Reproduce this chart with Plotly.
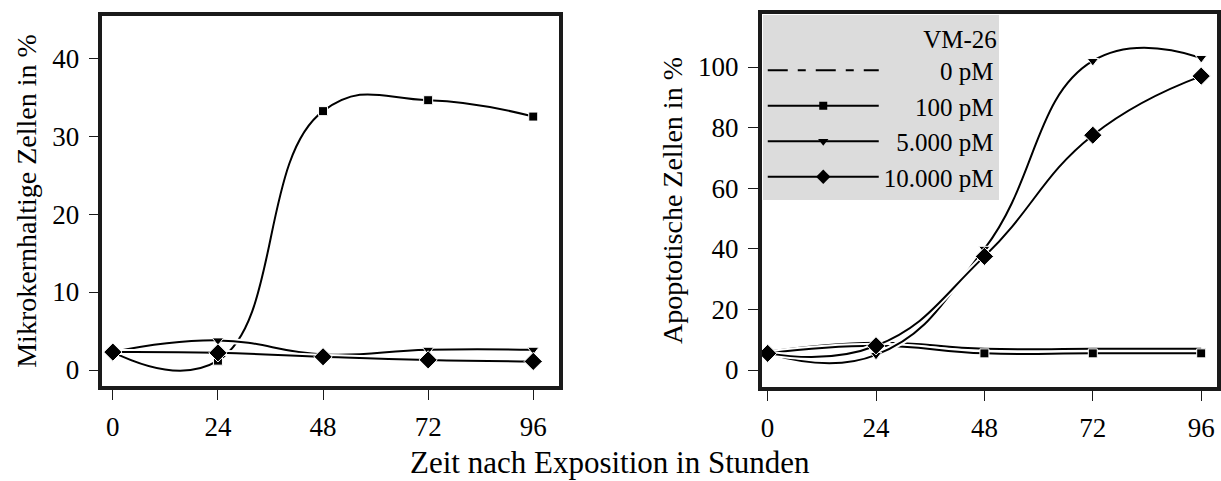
import plotly.graph_objects as go

hours = [0, 24, 48, 72, 96]
x_ticks = [0, 24, 48, 72, 96]
series_names = ["0 pM", "100 pM", "5.000 pM", "10.000 pM"]
# legend labels padded with figure/punctuation spaces so they line up on the right
legend_labels = ["\u2007\u2007\u2007\u2007\u20080 pM", "\u2007\u2007\u2008100 pM",
                 "\u20075.000 pM", "10.000 pM"]

# Left panel: Mikrokernhaltige Zellen in %
left_0pM = [2.3, 2.2, 1.7, 1.2, 1.0]
left_100pM = [2.3, 1.2, 33.2, 34.6, 32.5]
left_5000pM = [2.3, 3.8, 2.0, 2.6, 2.6]
left_10000pM = [2.3, 2.2, 1.7, 1.3, 1.1]

# Right panel: Apoptotische Zellen in %
right_0pM = [6.0, 9.0, 7.0, 7.0, 7.0]
right_100pM = [5.5, 8.0, 5.5, 5.5, 5.5]
right_5000pM = [5.5, 5.0, 40.0, 102.0, 103.0]
right_10000pM = [5.5, 8.0, 37.5, 77.5, 97.0]

left_y_ticks = [0, 10, 20, 30, 40]
right_y_ticks = [0, 20, 40, 60, 80, 100]

FONT = "Liberation Serif"
W, H = 1221, 481
LEG_DASH = "20px,10px,8px,10px"

styles = [
    dict(symbol=None, size=0, lsize=0),
    dict(symbol="square", size=9, lsize=8),
    dict(symbol="triangle-down", size=10, lsize=9),
    dict(symbol="diamond", size=14, lsize=11),
]

fig = go.Figure()


def add_panel(data, xa, ya):
    for name, ys, st in zip(series_names, data, styles):
        fig.add_trace(go.Scatter(
            x=hours, y=ys, mode="lines", xaxis=xa, yaxis=ya,
            line=dict(color="white", width=6, shape="spline", smoothing=1.3),
            showlegend=False, hoverinfo="skip"))
        mode = "lines" if st["symbol"] is None else "lines+markers"
        marker = dict(symbol=st["symbol"] or "circle", size=st["size"], color="black",
                      line=dict(color="white", width=1))
        fig.add_trace(go.Scatter(
            x=hours, y=ys, mode=mode, xaxis=xa, yaxis=ya, name=name,
            line=dict(color="black", width=2, shape="spline", smoothing=1.3),
            marker=marker, showlegend=False))


add_panel([left_0pM, left_100pM, left_5000pM, left_10000pM], "x", "y")
add_panel([right_0pM, right_100pM, right_5000pM, right_10000pM], "x2", "y2")

# legend entries (no data, legend only)
for lab, st, i in zip(legend_labels, styles, range(4)):
    mode = "lines" if st["symbol"] is None else "lines+markers"
    fig.add_trace(go.Scatter(
        x=[None], y=[None], mode=mode, xaxis="x2", yaxis="y2", name=lab,
        line=dict(color="black", width=2, dash=LEG_DASH if i == 0 else "solid"),
        marker=dict(symbol=st["symbol"] or "circle", size=st["lsize"], color="black"),
        showlegend=True))

axis_common = dict(
    showline=True, linecolor="#1a1a1a", linewidth=3.5, mirror=True,
    ticks="outside", ticklen=10, tickwidth=1.2, tickcolor="#1a1a1a",
    showgrid=False, zeroline=False, ticklabelstandoff=4,
    tickfont=dict(family=FONT, size=27, color="black"),
)

fig.update_layout(
    width=W, height=H,
    margin=dict(l=0, r=0, t=0, b=0),
    paper_bgcolor="white", plot_bgcolor="white",
    font=dict(family=FONT, color="black"),
    xaxis=dict(domain=[101.5 / W, 559 / W], range=[-2.4, 101.9], tickvals=x_ticks,
               anchor="y", **axis_common),
    yaxis=dict(domain=[1 - 386 / H, 1 - 16 / H], range=[-2.05, 45.4], tickvals=left_y_ticks,
               anchor="x",
               title=dict(text="Mikrokernhaltige Zellen in %", font=dict(family=FONT, size=28),
                          standoff=8),
               **axis_common),
    xaxis2=dict(domain=[762 / W, 1218 / W], range=[-1.3, 99.5], tickvals=x_ticks,
                anchor="y2", **axis_common),
    yaxis2=dict(domain=[1 - 387 / H, 1 - 14 / H], range=[-5.6, 117.5], tickvals=right_y_ticks,
                anchor="x2",
                title=dict(text="Apoptotische Zellen in %", font=dict(family=FONT, size=28),
                           standoff=8),
                **axis_common),
    legend=dict(
        x=763 / W, y=1 - 15 / H, xanchor="left", yanchor="top",
        bgcolor="#dcdcdc", borderwidth=0,
        font=dict(family=FONT, size=25, color="black"),
        title=dict(text="VM-26", side="top right", font=dict(family=FONT, size=25)),
        itemwidth=111, tracegroupgap=0,
    ),
    annotations=[dict(
        text="Zeit nach Exposition in Stunden", x=610 / W, y=1 - 462 / H,
        xref="paper", yref="paper", showarrow=False, xanchor="center", yanchor="middle",
        font=dict(family=FONT, size=31, color="black"),
    )],
)

fig.write_html("out.html", config={"displayModeBar": False},
               post_script="document.body.style.margin='0px';")
